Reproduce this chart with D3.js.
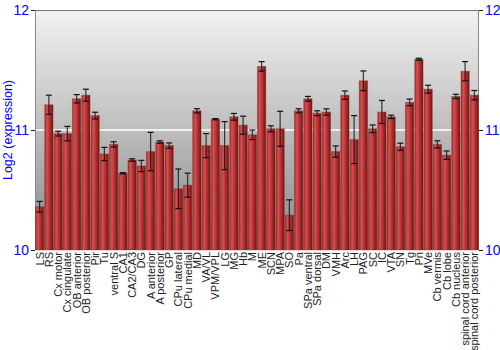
<!DOCTYPE html>
<html>
<head>
<meta charset="utf-8">
<script src="https://cdn.jsdelivr.net/npm/d3@7"></script>
<style>
  body { margin: 0; background: #fff; }
  .js-vis { width: 500px; height: 350px; }
  text { font-family: "Liberation Sans", Arial, sans-serif; }
</style>
</head>
<body>
<div class="js-vis"></div>
<script>
// Regions, mean expression and error
const regions = ["LS", "RS", "Cx motor", "Cx cingulate", "OB anterior", "OB posterior", "Pir", "Tu",
  "ventral S", "CA1", "CA2/CA3", "DG", "A anterior", "A posterior", "GP", "CPu lateral", "CPu medial",
  "MD", "VA/VL", "VPM/VPL", "LG", "MG", "Hb", "M", "ME", "SCN", "MPA", "SO", "Pa", "SPa ventral",
  "SPa dorsal", "DM", "VMH", "Arc", "LH", "PAG", "SC", "IC", "VTA", "SN", "Tg", "Pn", "MVe",
  "Cb vermis", "Cb lobe", "Cb nucleus", "spinal cord anterior", "spinal cord posterior"]

const means = [10.36, 11.21, 10.97, 10.97, 11.26, 11.29, 11.12, 10.80,
  10.88, 10.64, 10.75, 10.70, 10.82, 10.90, 10.87, 10.51, 10.54,
  11.16, 10.87, 11.09, 10.87, 11.11, 11.04, 10.96, 11.53, 11.01, 11.01, 10.29, 11.16, 11.26,
  11.14, 11.15, 10.82, 11.29, 10.92, 11.41, 11.01, 11.15, 11.11, 10.86, 11.23, 11.59, 11.34,
  10.88, 10.79, 11.28, 11.49, 11.29]

const errors = [0.045, 0.08, 0.02, 0.06, 0.035, 0.05, 0.028, 0.055,
  0.022, 0.005, 0.01, 0.047, 0.16, 0.01, 0.022, 0.165, 0.10,
  0.018, 0.10, 0.005, 0.20, 0.028, 0.075, 0.04, 0.04, 0.025, 0.146, 0.128, 0.017, 0.02,
  0.02, 0.026, 0.047, 0.035, 0.20, 0.082, 0.032, 0.096, 0.014, 0.03, 0.028, 0.008, 0.033,
  0.03, 0.035, 0.018, 0.08, 0.039]

const yTicks = [10, 11, 12]

const data = regions.map((r, i) => ({ name: r, v: means[i], e: errors[i] }))

const margin = { top: 10, right: 21, bottom: 100, left: 35 },
    width = 500 - margin.left - margin.right,
    height = 350 - margin.top - margin.bottom

const x = d3.scaleBand()
  .domain(regions)
  .range([0, width])
  .paddingInner(0.1)
  .paddingOuter(0.05)

const y = d3.scaleLinear()
  .domain([10, 12])
  .range([height, 0])

const svg = d3.select(".js-vis").append("svg")
  .attr("width", 500)
  .attr("height", 350)

const defs = svg.append("defs")

const bg = defs.append("linearGradient")
  .attr("id", "bg").attr("x1", 0).attr("y1", 0).attr("x2", 0).attr("y2", 1)
bg.append("stop").attr("offset", "0%").attr("stop-color", "#f2f2f2")
bg.append("stop").attr("offset", "50%").attr("stop-color", "#bdbdbd")
bg.append("stop").attr("offset", "100%").attr("stop-color", "#878787")

const barGrad = defs.append("linearGradient")
  .attr("id", "bar").attr("x1", 0).attr("y1", 0).attr("x2", 1).attr("y2", 0)
barGrad.append("stop").attr("offset", "0%").attr("stop-color", "#a53030")
barGrad.append("stop").attr("offset", "28%").attr("stop-color", "#d45050")
barGrad.append("stop").attr("offset", "55%").attr("stop-color", "#bb3434")
barGrad.append("stop").attr("offset", "85%").attr("stop-color", "#8c1d1d")
barGrad.append("stop").attr("offset", "100%").attr("stop-color", "#7a1818")

const vis = svg.append("g")
  .attr("transform", "translate(" + margin.left + "," + margin.top + ")")

vis.append("rect")
  .attr("width", width)
  .attr("height", height)
  .attr("fill", "url(#bg)")

// white reference line at 11
vis.append("line")
  .attr("x1", 0).attr("x2", width)
  .attr("y1", y(11)).attr("y2", y(11))
  .attr("stroke", "#fff")
  .attr("stroke-width", 1.5)

// frame
vis.append("line")
  .attr("x1", 0).attr("x2", width).attr("y1", 0.5).attr("y2", 0.5)
  .attr("stroke", "#777")
vis.append("line")
  .attr("x1", 0.5).attr("x2", 0.5).attr("y1", 0).attr("y2", height)
  .attr("stroke", "#888")
vis.append("line")
  .attr("x1", width - 0.5).attr("x2", width - 0.5).attr("y1", 0).attr("y2", height)
  .attr("stroke", "#888")

// bars
vis.append("g")
  .selectAll("rect")
  .data(data)
.enter().append("rect")
  .attr("x", d => x(d.name))
  .attr("y", d => y(d.v))
  .attr("width", x.bandwidth())
  .attr("height", d => height - y(d.v))
  .attr("fill", "url(#bar)")
  .attr("stroke", "rgba(120,30,30,0.35)")
  .attr("stroke-width", 1)

// error bars
const eb = vis.append("g")
  .selectAll("g")
  .data(data)
.enter().append("g")
  .attr("transform", d => "translate(" + (x(d.name) + x.bandwidth() / 2) + ",0)")

eb.append("line")
  .attr("y1", d => y(d.v + d.e))
  .attr("y2", d => y(d.v - d.e))
  .attr("stroke", "#111")
  .attr("stroke-opacity", 0.8)
  .attr("stroke-width", 1.2)

eb.selectAll(".cap")
  .data(d => [d.v + d.e, d.v - d.e])
.enter().append("line")
  .attr("class", "cap")
  .attr("x1", -3).attr("x2", 3)
  .attr("y1", d => y(d)).attr("y2", d => y(d))
  .attr("stroke", "#111")
  .attr("stroke-width", 1.2)

// axes
const yl = d3.axisLeft(y).tickValues(yTicks).tickFormat(d3.format("d")).tickSize(4).tickPadding(2)
const yr = d3.axisRight(y).tickValues(yTicks).tickFormat(d3.format("d")).tickSize(4).tickPadding(2)

const gl = vis.append("g").call(yl)
const gr = vis.append("g").attr("transform", "translate(" + width + ",0)").call(yr)

;[gl, gr].forEach(g => {
  g.select(".domain").remove()
  g.selectAll(".tick line").attr("stroke", "#222")
  g.selectAll(".tick text")
    .attr("fill", "#0000ff")
    .style("font-size", "14px")
})

// category labels
vis.append("g")
  .selectAll("text")
  .data(regions)
.enter().append("text")
  .attr("transform", d => "translate(" + (x(d) + x.bandwidth() / 2 + 4) + "," + (height + 2) + ") rotate(-90)")
  .attr("text-anchor", "end")
  .style("font-size", "11px")
  .attr("fill", "#222")
  .text(d => d)

// y title
svg.append("text")
  .attr("transform", "translate(8," + (margin.top + height / 2) + ") rotate(-90)")
  .attr("text-anchor", "middle")
  .attr("dy", "0.35em")
  .attr("fill", "#0000ff")
  .style("font-size", "12.5px")
  .text("Log2 (expression)")
</script>
</body>
</html>
